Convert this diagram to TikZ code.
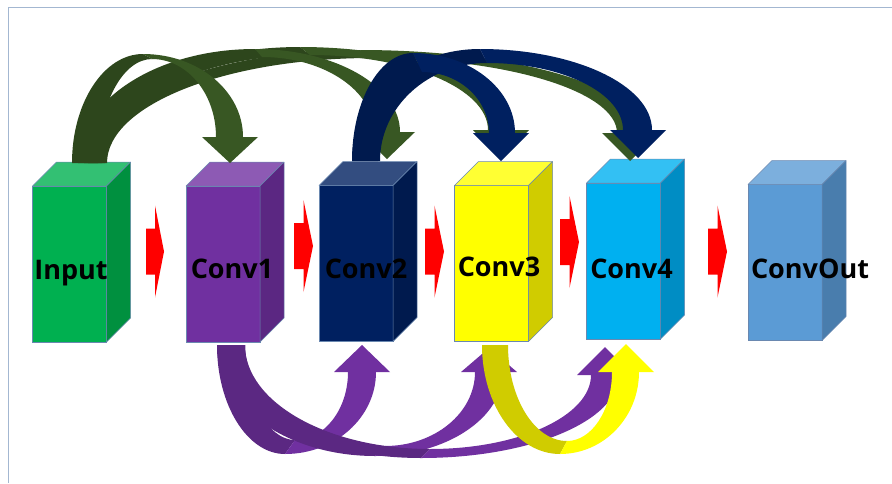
\documentclass[tikz,border=0pt]{standalone}
\usepackage{fontspec}
\setmainfont{Open Sans}
\definecolor{framec}{HTML}{A3B7D1}
\definecolor{edgec}{HTML}{6A88B0}
\definecolor{inF}{HTML}{00B050}\definecolor{inT}{HTML}{33C073}\definecolor{inS}{HTML}{00903F}
\definecolor{c1F}{HTML}{7030A0}\definecolor{c1T}{HTML}{8D5AB4}\definecolor{c1S}{HTML}{5B2782}
\definecolor{c2F}{HTML}{002060}\definecolor{c2T}{HTML}{334D80}\definecolor{c2S}{HTML}{001A4E}
\definecolor{c3F}{HTML}{FFFF00}\definecolor{c3T}{HTML}{FFFF33}\definecolor{c3S}{HTML}{D0CC00}
\definecolor{c4F}{HTML}{00B0F0}\definecolor{c4T}{HTML}{33C0F3}\definecolor{c4S}{HTML}{008DC4}
\definecolor{coF}{HTML}{5B9BD5}\definecolor{coT}{HTML}{7CAFDD}\definecolor{coS}{HTML}{497DAD}
\definecolor{gdark}{HTML}{2D461C}\definecolor{glight}{HTML}{385723}
\definecolor{ndark}{HTML}{001A4E}\definecolor{nlight}{HTML}{002060}
\definecolor{pdark}{HTML}{5B2882}\definecolor{plight}{HTML}{7030A0}
\definecolor{ydark}{HTML}{D0CC00}\definecolor{ylight}{HTML}{FFFF00}
\definecolor{redc}{HTML}{FF0000}
\tikzset{
  frontbox/.style={minimum width=74pt, minimum height=156pt, inner sep=0pt, outer sep=0pt, draw=edgec, line width=0.5pt},
  facebox/.style={draw=edgec, line width=0.5pt, line join=round},
  label/.style={font=\bfseries\fontsize{27}{30}\selectfont, text=black, anchor=base, inner sep=0pt},
  redarrow/.style={fill=redc},
}
% cube: name, x, y, front, top, side
\newcommand\MkCube[6]{%
  \node[frontbox, fill=#4] (#1) at (#2,#3) {};
  \filldraw[facebox, fill=#5] (#1.north west) -- ++(24,-24) -- ++(74,0) -- (#1.north east) -- cycle;
  \filldraw[facebox, fill=#6] (#1.north east) -- ++(24,-24) -- ++(0,156) -- (#1.south east) -- cycle;
}
% red block arrow: left x, tip x, centre y
\newcommand\RedArr[3]{%
  \fill[redarrow] (#1,{#3-23}) -- ({(#1+#2)/2},{#3-23}) -- ({(#1+#2)/2},{#3-46}) -- (#2,#3)
     -- ({(#1+#2)/2},{#3+46}) -- ({(#1+#2)/2},{#3+23}) -- (#1,{#3+23}) -- cycle;
}
% curved arrow: first part
\newcommand\SetA[7]{\def\aso{#1}\def\asi{#2}\def\ay{#3}\def\apox{#4}\def\apoy{#5}\def\apix{#6}\def\apiy{#7}}
% second part: eo, ei, hy, tx, ty, hw, dark, light
\newcommand\DrawA[8]{%
  \fill[#7] (\aso,\ay) .. controls +(0,{0.5523*(\apoy-\ay)}) and +({0.5523*(\aso-\apox)},0) .. (\apox,\apoy)
    -- (\apix,\apiy) .. controls +({0.5523*(\asi-\apix)},0) and +(0,{0.5523*(\apiy-\ay)}) .. (\asi,\ay) -- cycle;
  \fill[#8] (\apox,\apoy) .. controls +({0.5523*(#1-\apox)},0) and +(0,{0.5523*(\apoy-#3)}) .. (#1,#3)
    -- (#2,#3) .. controls +(0,{0.5523*(\apiy-#3)}) and +({0.5523*(#2-\apix)},0) .. (\apix,\apiy) -- cycle;
  \fill[#8] ({#4-#6},#3) -- ({#4+#6},#3) -- (#4,#5) -- cycle;
}
\begin{document}
\begin{tikzpicture}[x=1pt,y=-1pt]
\useasboundingbox (0,0) rectangle (892,483);
\fill[white] (0,0) rectangle (892,483);
\draw[framec, line width=0.8pt] (8,483) -- (8,7) -- (892,7);

% boxes
\MkCube{in}{69.5}{264}{inF}{inT}{inS}
\MkCube{c1}{223}{264}{c1F}{c1T}{c1S}
\MkCube{c2}{356}{263.5}{c2F}{c2T}{c2S}
\MkCube{c3}{491.5}{263.5}{c3F}{c3T}{c3S}
\MkCube{c4}{623.5}{261}{c4F}{c4T}{c4S}
\MkCube{out}{785}{262.5}{coF}{coT}{coS}

% labels
\node[label] (tin) at (71,279) {Input};
\node[label] (tc1) at (232,278) {Conv1};
\node[label] (tc2) at (366,278) {Conv2};
\node[label] (tc3) at (499,276) {Conv3};
\node[label] (tc4) at (631.5,278) {Conv4};
\node[label] (tco) at (810,278) {ConvOut};

% red arrows
\RedArr{146}{164}{251.5}
\RedArr{294}{313}{246}
\RedArr{425}{444}{251.5}
\RedArr{560}{579}{242}
\RedArr{708}{727}{251.5}

% green arrows from Input
\SetA{88}{107}{163}{360}{50}{372}{58}
\DrawA{643}{617}{133}{630}{161}{28}{gdark}{glight}
\SetA{84}{105}{163}{300}{47}{310}{55}
\DrawA{514}{488}{130}{501}{158}{28}{gdark}{glight}
\SetA{78}{102}{163}{255}{49}{262}{57}
\DrawA{400}{374}{132}{387}{159}{28}{gdark}{glight}
\SetA{72}{98}{163}{143}{54}{152}{59}
\DrawA{243}{216}{137}{230}{163}{28}{gdark}{glight}

% navy arrows from Conv2
\SetA{352}{380}{161}{480}{49}{487}{63}
\DrawA{652}{623}{130}{638}{158}{28}{ndark}{nlight}
\SetA{352}{378}{161}{413}{53}{422}{72}
\DrawA{515}{489}{133}{501}{161}{28}{ndark}{nlight}

% purple arrows from Conv1
\SetA{217}{245}{345}{285}{454}{295}{440}
\DrawA{376}{348}{372}{362}{345}{28}{pdark}{plight}
\SetA{217}{245}{345}{375}{456}{385}{446}
\DrawA{503}{475}{372}{489}{348}{28}{pdark}{plight}
\SetA{217}{245}{345}{421}{458}{430}{449}
\DrawA{619}{591}{375}{605}{347}{28}{pdark}{plight}

% yellow arrow from Conv3
\SetA{482}{508}{345}{560}{454}{567}{441}
\DrawA{639}{612}{372}{626}{344}{28}{ydark}{ylight}
\end{tikzpicture}
\end{document}
